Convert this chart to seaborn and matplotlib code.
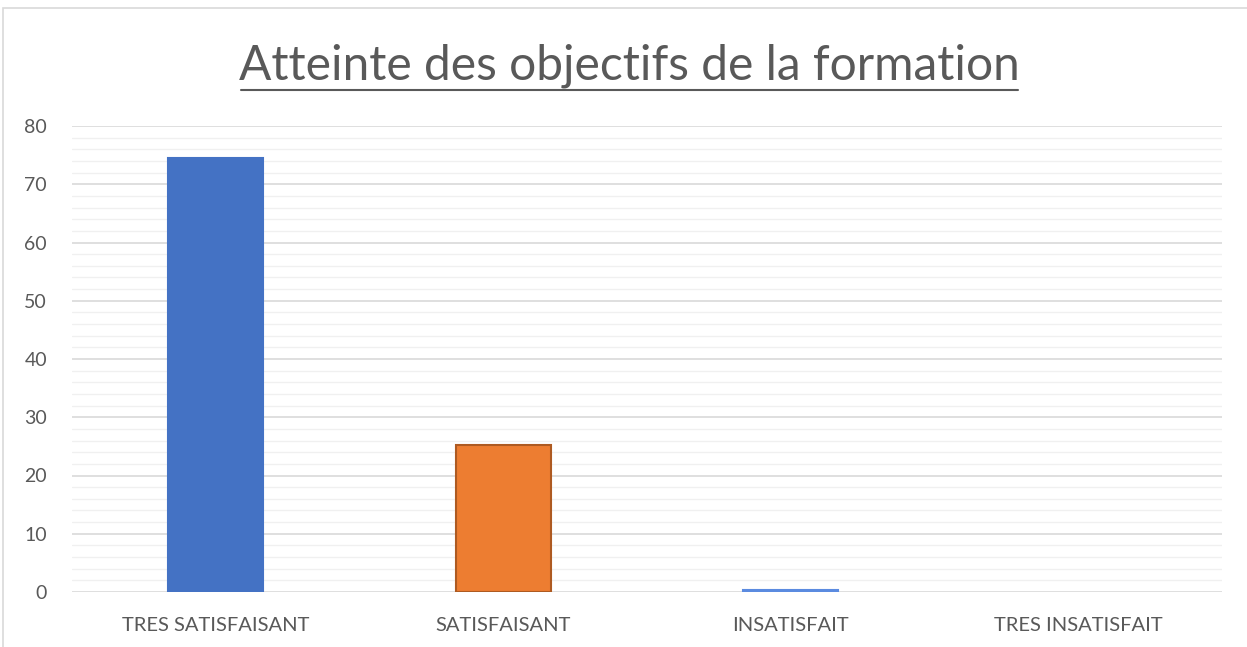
import pandas as pd
import seaborn as sns
import matplotlib.pyplot as plt
from matplotlib.patches import Rectangle

# Data
categories = ["TRES SATISFAISANT", "SATISFAISANT", "INSATISFAIT", "TRES INSATISFAIT"]
values = [74.5, 25.3, 0.3, 0.0]
bar_colors = ["#4472C4", "#ED7D31", "#4472C4", "#A5A5A5"]
edge_colors = ["#4472C4", "#AE5A21", "#5B8BE0", "none"]

df = pd.DataFrame({"categorie": categories, "valeur": values})

sns.set_theme(style="white")
plt.rcParams["font.family"] = ["Lato", "DejaVu Sans"]

fig = plt.figure(figsize=(12.47, 6.47), dpi=100)
ax = fig.add_axes([72 / 1247, 1 - 592 / 647, 1150 / 1247, 466 / 647])

sns.barplot(data=df, x="categorie", y="valeur", hue="categorie",
            palette=bar_colors, saturation=1, width=0.33, legend=False, ax=ax)
for patch, ec, v in zip(ax.patches, edge_colors, values):
    patch.set_edgecolor(ec)
    patch.set_linewidth(1.5 if v > 0 else 0)
    if v == 0:
        patch.set_visible(False)

ax.set_ylim(0, 80)
ax.set_yticks(range(0, 81, 10))
ax.set_yticks(range(0, 81, 2), minor=True)
ax.grid(axis="y", which="major", color="#D9D9D9", linewidth=1.2)
ax.grid(axis="y", which="minor", color="#F0F0F0", linewidth=1.0)
ax.set_axisbelow(True)
for s in ax.spines.values():
    s.set_visible(False)
ax.tick_params(axis="y", which="both", length=0, labelsize=14, labelcolor="#595959", pad=18)
ax.tick_params(axis="x", length=0, labelsize=14.5, labelcolor="#595959", pad=18)
ax.set_xlabel("")
ax.set_ylabel("")

fig.text(0.5045, 1 - 66 / 647, "Atteinte des objectifs de la formation",
         ha="center", va="center", fontsize=34.5, color="#595959")
# underline title
fig.add_artist(plt.Line2D([241 / 1247, 1018 / 1247], [1 - 90 / 647, 1 - 90 / 647],
                          color="#595959", linewidth=1.5))

# chart frame
fig.add_artist(Rectangle((3 / 1247, -0.1), 1.2, 1 - 8 / 647 + 0.1,
                         transform=fig.transFigure, fill=False,
                         edgecolor="#D9D9D9", linewidth=1.2))

fig.savefig("out.png", dpi=100)
